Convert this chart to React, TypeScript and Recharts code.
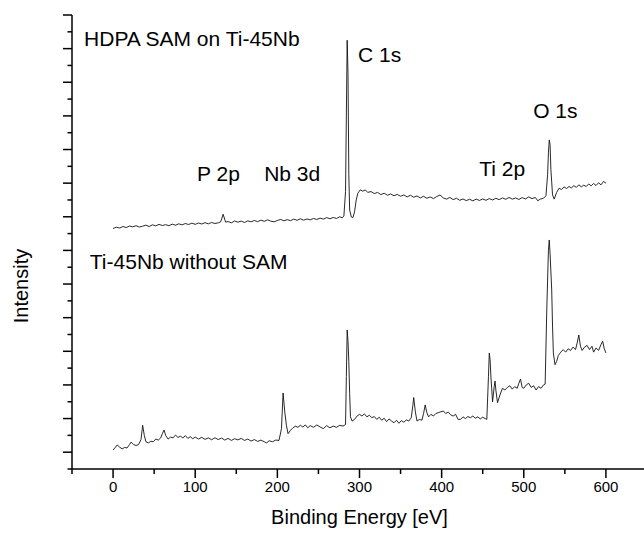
import React from "react";
import {
  ComposedChart,
  Line,
  Scatter,
  XAxis,
  YAxis,
} from "recharts";

// XPS survey spectra, [binding energy (eV), intensity (a.u.)]
const HDPA_SAM: [number, number][] = [
  [0, 14.3], [4, 14.38], [8, 14.33], [12, 14.42], [16, 14.36], [20, 14.45],
  [24, 14.4], [28, 14.47], [32, 14.39], [36, 14.44], [40, 14.5], [44, 14.42],
  [48, 14.52], [52, 14.46], [56, 14.55], [60, 14.48], [64, 14.53], [68, 14.47],
  [72, 14.56], [76, 14.5], [80, 14.58], [84, 14.52], [88, 14.6], [92, 14.54],
  [96, 14.62], [100, 14.55], [104, 14.63], [108, 14.57], [112, 14.65], [116, 14.58],
  [120, 14.66], [124, 14.6], [128, 14.64], [131, 14.7], [134, 15.15], [137, 14.68],
  [140, 14.72], [144, 14.64], [148, 14.75], [152, 14.68], [156, 14.74], [160, 14.66],
  [164, 14.76], [168, 14.7], [172, 14.78], [176, 14.71], [180, 14.8], [184, 14.73],
  [188, 14.82], [192, 14.74], [196, 14.7], [200, 14.78], [204, 14.84], [208, 14.76],
  [212, 14.83], [216, 14.77], [220, 14.86], [224, 14.79], [228, 14.88], [232, 14.8],
  [236, 14.87], [240, 14.82], [244, 14.9], [248, 14.84], [252, 14.92], [256, 14.86],
  [260, 14.95], [264, 14.88], [268, 14.96], [272, 14.9], [276, 15.0], [279, 14.94],
  [281, 15.05], [283, 16.5], [284, 21.0], [285, 25.5], [286, 23.5], [287, 17.5],
  [288, 15.4], [290, 14.99], [292, 14.95], [294, 15.3], [296, 16.0], [298, 16.4],
  [301, 16.6], [304, 16.52], [307, 16.6], [310, 16.45], [314, 16.5], [318, 16.38],
  [322, 16.45], [326, 16.32], [330, 16.4], [334, 16.28], [338, 16.36], [342, 16.25],
  [346, 16.33], [350, 16.22], [354, 16.3], [358, 16.18], [362, 16.28], [366, 16.16],
  [370, 16.24], [374, 16.12], [378, 16.22], [382, 16.1], [386, 16.18], [390, 16.08],
  [394, 16.2], [398, 16.3], [402, 16.12], [406, 16.05], [410, 16.15], [414, 16.02],
  [418, 16.1], [422, 15.98], [426, 16.06], [430, 15.96], [434, 16.04], [438, 15.95],
  [442, 16.05], [446, 15.97], [450, 16.06], [454, 15.98], [458, 16.08], [462, 16.0],
  [466, 16.1], [470, 16.02], [474, 16.12], [478, 16.04], [482, 16.15], [486, 16.05],
  [490, 16.12], [494, 16.03], [498, 16.14], [502, 16.06], [506, 16.18], [510, 16.08],
  [514, 16.15], [517, 15.95], [520, 16.05], [524, 16.1], [527, 16.25], [529, 17.5],
  [530, 18.8], [531, 19.57], [532, 19.3], [533, 17.8], [535, 16.3], [537, 16.05],
  [540, 16.45], [543, 16.7], [546, 16.62], [549, 16.78], [552, 16.68], [555, 16.8],
  [558, 16.72], [561, 16.85], [564, 16.75], [567, 16.9], [570, 16.78], [573, 16.88],
  [576, 16.8], [579, 16.95], [582, 16.84], [585, 16.98], [588, 16.86], [591, 17.02],
  [594, 16.9], [597, 17.1], [600, 17.0],
];

const BARE_TI45NB: [number, number][] = [
  [0, 1.13], [3, 1.3], [5, 1.43], [8, 1.3], [11, 1.2], [14, 1.28], [17, 1.25],
  [20, 1.45], [22, 1.6], [25, 1.45], [28, 1.4], [31, 1.45], [34, 1.75], [36, 2.6],
  [38, 2.0], [40, 1.62], [43, 1.55], [46, 1.65], [49, 1.62], [52, 1.78], [55, 1.72],
  [58, 1.85], [60, 2.1], [62, 2.32], [64, 2.0], [67, 1.78], [70, 1.9], [73, 1.85],
  [76, 2.02], [79, 1.88], [82, 1.95], [85, 1.85], [88, 1.98], [91, 1.82], [94, 1.92],
  [97, 1.8], [100, 1.9], [104, 1.78], [108, 1.88], [112, 1.76], [116, 1.85], [120, 1.74],
  [124, 1.86], [128, 1.75], [132, 1.84], [136, 1.72], [140, 1.82], [144, 1.7], [148, 1.8],
  [152, 1.73], [156, 1.82], [160, 1.7], [164, 1.78], [168, 1.66], [172, 1.75], [176, 1.64],
  [180, 1.72], [184, 1.62], [187, 1.55], [190, 1.68], [194, 1.62], [198, 1.72], [202, 1.7],
  [205, 2.4], [207, 4.52], [209, 3.4], [211, 2.6], [213, 2.1], [216, 2.3], [219, 2.45],
  [222, 2.55], [225, 2.48], [228, 2.6], [231, 2.5], [234, 2.62], [237, 2.45], [240, 2.58],
  [244, 2.48], [248, 2.62], [252, 2.5], [256, 2.4], [260, 2.58], [264, 2.45], [268, 2.55],
  [272, 2.48], [276, 2.6], [280, 2.55], [283, 2.65], [284, 5.5], [285, 8.27], [286, 7.6],
  [287, 6.4], [288, 4.5], [289, 3.1], [291, 2.85], [294, 2.95], [297, 3.15], [300, 3.25],
  [303, 3.15], [306, 3.28], [309, 3.1], [312, 3.2], [315, 3.05], [318, 3.12], [321, 2.95],
  [324, 3.08], [327, 2.9], [330, 3.02], [333, 2.82], [336, 2.98], [339, 2.85], [342, 2.75],
  [345, 2.9], [348, 2.72], [351, 2.88], [354, 2.78], [357, 2.92], [360, 2.85], [363, 3.05],
  [365, 3.8], [366, 4.25], [368, 3.4], [370, 2.85], [373, 2.95], [376, 2.9], [378, 3.3],
  [380, 3.81], [382, 3.35], [384, 3.1], [387, 3.25], [390, 3.15], [393, 3.3], [396, 3.35],
  [399, 3.4], [402, 3.45], [405, 3.3], [408, 3.38], [411, 3.22], [414, 3.15], [417, 3.25],
  [420, 2.95], [423, 2.95], [426, 3.1], [429, 3.0], [432, 3.12], [435, 3.05], [438, 3.15],
  [441, 3.02], [444, 3.1], [447, 2.98], [450, 3.08], [453, 3.0], [455, 2.95], [457, 5.5],
  [458, 6.9], [459, 6.5], [460, 5.47], [462, 4.0], [464, 4.9], [465, 5.23], [466, 4.7],
  [468, 3.94], [471, 4.4], [474, 4.8], [477, 4.7], [480, 4.85], [483, 4.95], [486, 4.75],
  [489, 4.9], [492, 4.8], [494, 5.1], [496, 5.35], [498, 4.85], [500, 4.8], [503, 5.0],
  [506, 5.1], [509, 4.85], [512, 4.95], [515, 4.7], [518, 4.9], [521, 4.8], [524, 5.0],
  [526, 5.05], [528, 9.5], [530, 13.0], [531, 13.62], [532, 12.8], [534, 10.65], [535, 8.5],
  [536, 6.9], [538, 6.2], [540, 6.4], [542, 6.75], [545, 6.95], [548, 7.1], [551, 6.95],
  [554, 7.15], [557, 7.05], [560, 7.25], [563, 7.1], [565, 7.5], [567, 7.97], [569, 7.3],
  [571, 7.05], [574, 7.25], [577, 7.35], [580, 7.1], [583, 7.3], [585, 6.95], [588, 7.2],
  [591, 7.05], [594, 7.4], [596, 7.6], [598, 7.15], [600, 6.9],
];

// peak / sample annotations placed in data coordinates (text start, baseline)
const NOTE_TEXT = ["HDPA SAM on Ti-45Nb", "C 1s", "O 1s", "Ti 2p", "P 2p", "Nb 3d", "Ti-45Nb without SAM"];
const NOTE_EV = [-35.3, 298.3, 511.4, 445.7, 102.3, 183.9, -28.3];
const NOTE_INT = [25.16, 24.2, 20.87, 17.42, 17.13, 17.13, 11.89];

const X_TICKS = [-50, 0, 50, 100, 150, 200, 250, 300, 350, 400, 450, 500, 550, 600, 650];
const Y_TICKS = [0, 1, 2, 3, 4, 5, 6, 7, 8, 9, 10, 11, 12, 13, 14, 15, 16, 17, 18, 19, 20, 21, 22, 23, 24, 25, 26, 27];

const FONT = "'Liberation Sans', Arial, Helvetica, sans-serif";

const toPoints = (arr: [number, number][]) => arr.map(([x, y]) => ({ x, y }));
const upperData = toPoints(HDPA_SAM);
const lowerData = toPoints(BARE_TI45NB);
const notes = NOTE_TEXT.map((label, i) => ({ x: NOTE_EV[i], y: NOTE_INT[i], label }));

const XTick = (props: any) => {
  const { x, y, payload } = props;
  const major = payload.value % 100 === 0;
  return (
    <g>
      <line x1={x} x2={x} y1={y} y2={y + (major ? 9 : 5)} stroke="#000" strokeWidth={1.5} />
      {major && (
        <text x={x} y={y + 23} textAnchor="middle" fontSize={15} fontFamily={FONT} fill="#000">
          {payload.value}
        </text>
      )}
    </g>
  );
};

const YTick = (props: any) => {
  const { x, y, payload } = props;
  const major = payload.value % 2 === 1;
  return <line x1={x - (major ? 9 : 4.5)} x2={x} y1={y} y2={y} stroke="#000" strokeWidth={1.5} />;
};

const NoteShape = (props: any) => (
  <text x={props.cx} y={props.cy} fontSize={21} fontFamily={FONT} fill="#000">
    {props.payload.label}
  </text>
);

export default function App() {
  return (
    <div
      style={{
        position: "absolute",
        left: 0,
        top: 0,
        width: 644,
        height: 538,
        overflow: "hidden",
        background: "#fff",
      }}
    >
      <ComposedChart width={647} height={538} margin={{ top: 15, right: 0, left: 52, bottom: 0 }}>
        <XAxis
          type="number"
          dataKey="x"
          domain={[-50, 650]}
          ticks={X_TICKS}
          allowDataOverflow
          interval={0}
          height={69}
          tickSize={0}
          tickMargin={0}
          tickLine={false}
          tick={<XTick />}
          axisLine={{ stroke: "#000", strokeWidth: 1.5 }}
          label={{
            content: (p: any) => (
              <text
                x={p.viewBox.x + p.viewBox.width / 2}
                y={p.viewBox.y + 55}
                textAnchor="middle"
                fontSize={20}
                fontFamily={FONT}
                fill="#000"
              >
                Binding Energy [eV]
              </text>
            ),
          }}
        />
        <YAxis
          type="number"
          dataKey="y"
          domain={[0, 27]}
          ticks={Y_TICKS}
          allowDataOverflow
          interval={0}
          width={20}
          tickSize={0}
          tickMargin={0}
          tickLine={false}
          tick={<YTick />}
          axisLine={{ stroke: "#000", strokeWidth: 1.5 }}
          label={{
            content: () => (
              <text
                x={28}
                y={286}
                transform="rotate(-90 28 286)"
                textAnchor="middle"
                fontSize={20}
                fontFamily={FONT}
                fill="#000"
              >
                Intensity
              </text>
            ),
          }}
        />
        <Line
          data={upperData}
          dataKey="y"
          type="linear"
          stroke="#111"
          strokeWidth={0.9}
          dot={false}
          activeDot={false}
          isAnimationActive={false}
        />
        <Line
          data={lowerData}
          dataKey="y"
          type="linear"
          stroke="#111"
          strokeWidth={0.9}
          dot={false}
          activeDot={false}
          isAnimationActive={false}
        />
        <Scatter data={notes} dataKey="y" shape={NoteShape} isAnimationActive={false} />
      </ComposedChart>
    </div>
  );
}
